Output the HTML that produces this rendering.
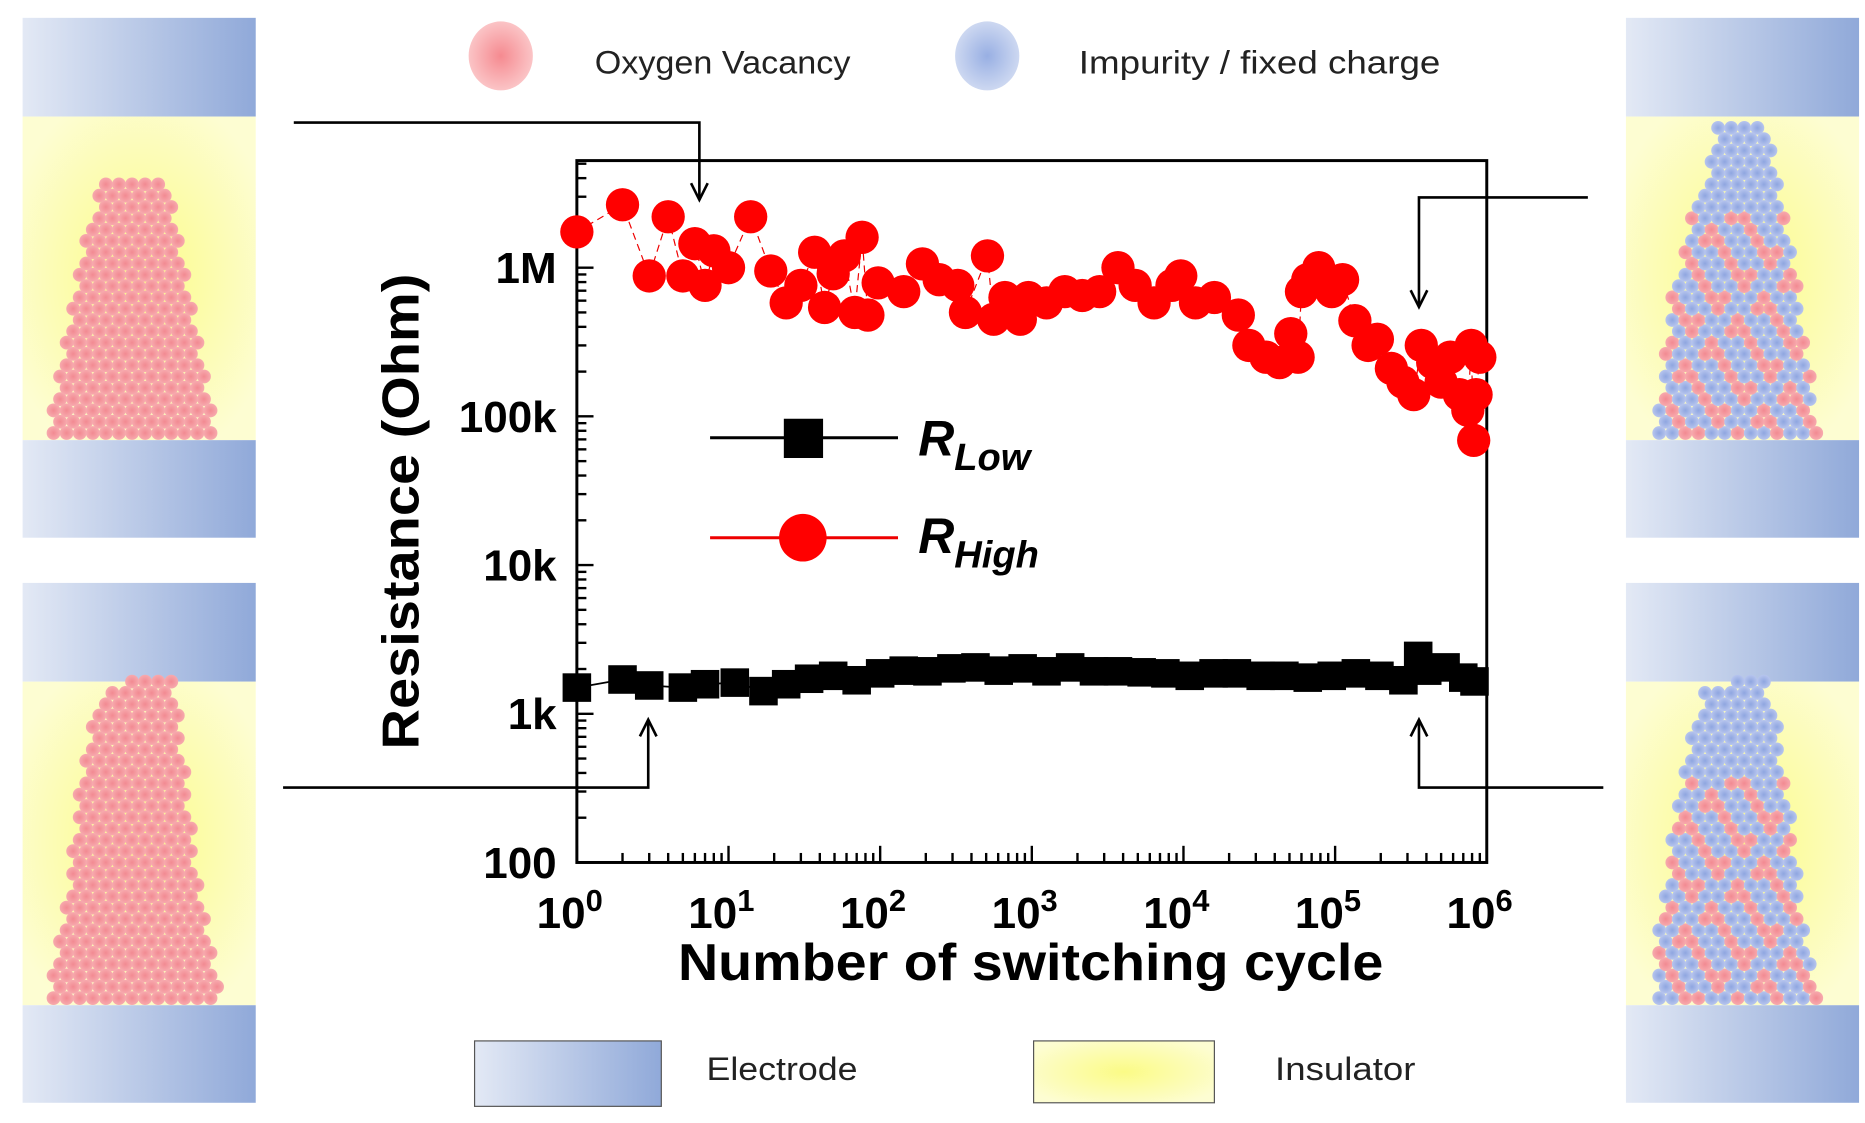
<!DOCTYPE html>
<html><head><meta charset="utf-8"><style>
html,body{margin:0;padding:0;background:#fff;}
svg{display:block;}
text{font-family:"Liberation Sans",Arial,sans-serif;}
</style></head><body>
<svg id="fig" width="1865" height="1123" viewBox="0 0 1568 944" preserveAspectRatio="none" xmlns="http://www.w3.org/2000/svg">
<defs>
<linearGradient id="elec" x1="0" x2="1" y1="0" y2="0"><stop offset="0" stop-color="#e3e9f5"/><stop offset="1" stop-color="#90a9d9"/></linearGradient>
<radialGradient id="ins" cx="0.5" cy="0.5" r="0.6"><stop offset="0" stop-color="#fbfb86"/><stop offset="1" stop-color="#fdfdd2"/></radialGradient>
<radialGradient id="redball"><stop offset="0" stop-color="#f58a90"/><stop offset="1" stop-color="#fbc4c6"/></radialGradient>
<radialGradient id="blueball"><stop offset="0" stop-color="#98afe3"/><stop offset="1" stop-color="#cdd8f1"/></radialGradient>
<radialGradient id="dotR"><stop offset="0" stop-color="#f28a92"/><stop offset="1" stop-color="#f7aaae"/></radialGradient>
<radialGradient id="dotB"><stop offset="0" stop-color="#8fa6e0"/><stop offset="1" stop-color="#b7c5ee"/></radialGradient>
</defs>

<g id="panels"></g>

<g>
<ellipse cx="421" cy="47" rx="27" ry="29" fill="url(#redball)"/>
<text x="500" y="62" font-size="27" fill="#222" textLength="215" lengthAdjust="spacingAndGlyphs">Oxygen Vacancy</text>
<ellipse cx="830" cy="47" rx="27" ry="29" fill="url(#blueball)"/>
<text x="907" y="62" font-size="27" fill="#222" textLength="304" lengthAdjust="spacingAndGlyphs">Impurity / fixed charge</text>
</g>

<g>
<rect x="399" y="875" width="157" height="55" fill="url(#elec)" stroke="#555" stroke-width="1"/>
<text x="594" y="908" font-size="27" fill="#222" textLength="127" lengthAdjust="spacingAndGlyphs">Electrode</text>
<rect x="869" y="875" width="152" height="52" fill="url(#ins)" stroke="#555" stroke-width="1"/>
<text x="1072" y="908" font-size="27" fill="#222" textLength="118" lengthAdjust="spacingAndGlyphs">Insulator</text>
</g>

<g id="chart"></g>

<g fill="none" stroke="#000" stroke-width="2.2">
<g><polyline points="247,103 588,103 588,168"/><polyline points="581,154 588,168 595,154"/></g>
<g><polyline points="1335,166 1193,166 1193,258"/><polyline points="1186,244 1193,258 1200,244"/></g>
<g><polyline points="238,662 545,662 545,605"/><polyline points="538,619 545,605 552,619"/></g>
<g><polyline points="1348,662 1193,662 1193,605"/><polyline points="1186,619 1193,605 1200,619"/></g>
</g>
</svg>
<script>
// ---- chart data ----
const hrsCycles = [1,2,3,4,5,6,7,8,10,14,19,24,30,37,43,49,58,68,76,83,97,143,190,245,325,365,510,560,665,840,950,1250,1650,2150,2800,3700,4800,6400,8400,9600,12000,16000,23000,27000,35000,43000,51000,57000,60000,66000,78000,95000,112000,135000,165000,190000,235000,280000,330000,370000,440000,500000,575000,660000,750000,790000,820000,850000,900000];
const hrsOhm = [1.74e6,2.65e6,0.88e6,2.2e6,0.88e6,1.45e6,0.76e6,1.3e6,1.0e6,2.2e6,0.95e6,0.58e6,0.76e6,1.27e6,0.54e6,0.91e6,1.2e6,0.5e6,1.6e6,0.48e6,0.79e6,0.69e6,1.06e6,0.83e6,0.76e6,0.5e6,1.2e6,0.45e6,0.63e6,0.45e6,0.63e6,0.58e6,0.69e6,0.65e6,0.69e6,1.0e6,0.76e6,0.58e6,0.76e6,0.88e6,0.58e6,0.63e6,0.48e6,0.3e6,0.25e6,0.23e6,0.36e6,0.25e6,0.69e6,0.83e6,1.0e6,0.69e6,0.83e6,0.44e6,0.3e6,0.33e6,0.21e6,0.17e6,0.14e6,0.3e6,0.23e6,0.17e6,0.25e6,0.14e6,0.11e6,0.3e6,0.069e6,0.14e6,0.25e6];
const lrsCycles = [1,2,3,5,7,11,17,24,34,49,70,100,143,205,295,425,605,870,1250,1790,2570,3700,5300,7600,11000,15800,22500,32300,46300,66000,95000,137000,196000,282000,353000,405000,535000,700000,830000];
const lrsOhm = [1500,1700,1550,1500,1580,1620,1420,1580,1720,1800,1680,1870,1950,1930,2020,2050,1950,2020,1930,2050,1930,1930,1900,1870,1800,1870,1870,1800,1800,1750,1800,1870,1800,1680,2450,1950,2050,1750,1650];
const yTickVals = [100,1000,10000,100000,1000000];
const yTickLabels = ["100","1k","10k","100k","1M"];
const xTickExps = [0,1,2,3,4,5,6];

const NS="http://www.w3.org/2000/svg";
function mk(tag, attrs, parent){const e=document.createElementNS(NS,tag);for(const k in attrs)e.setAttribute(k,attrs[k]);parent.appendChild(e);return e;}

// ---- panels ----
const panels=document.getElementById('panels');
const panelDefs=[
 {x:19,y:15,poly:[[40,370],[48,330],[56,280],[64,230],[72,190],[84,160],[100,143],[126,143],[142,160],[152,200],[160,250],[168,300],[178,340],[186,370]],blue:false,name:'panel-initial-hrs'},
 {x:19,y:490,poly:[[40,845],[50,790],[60,720],[68,660],[76,610],[88,585],[106,570],[146,570],[152,600],[156,650],[164,710],[172,770],[180,815],[186,845]],blue:false,name:'panel-initial-lrs'},
 {x:1367,y:15,poly:[[1390,370],[1396,320],[1404,260],[1414,210],[1426,170],[1438,140],[1444,100],[1486,100],[1492,140],[1502,180],[1510,230],[1518,290],[1526,340],[1532,370]],blue:true,name:'panel-final-hrs'},
 {x:1367,y:490,poly:[[1390,845],[1395,780],[1404,710],[1414,650],[1424,610],[1434,575],[1482,570],[1494,600],[1502,660],[1510,720],[1518,790],[1532,845]],blue:true,name:'panel-final-lrs'}
];
function inPoly(px,py,poly){let c=false;for(let i=0,j=poly.length-1;i<poly.length;j=i++){const [xi,yi]=poly[i],[xj,yj]=poly[j];if(((yi>py)!=(yj>py))&&(px<(xj-xi)*(py-yi)/(yj-yi)+xi))c=!c;}return c;}
panelDefs.forEach(p=>{
 const g=mk('g',{},panels);
 
 
 const t=mk('rect',{x:p.x,y:p.y,width:196,height:83,fill:'url(#elec)'},g);
 
 
 const m=mk('rect',{x:p.x,y:p.y+83,width:196,height:272,fill:'url(#ins)'},g);
 
 
 const b=mk('rect',{x:p.x,y:p.y+355,width:196,height:82,fill:'url(#elec)'},g);
 
 
 const fil=mk('g',{},g);
 
 
 const ys=p.poly.map(q=>q[1]);const ymin=Math.min(...ys),ymax=Math.max(...ys);
 const xs=p.poly.map(q=>q[0]);const xmin=Math.min(...xs),xmax=Math.max(...xs);
 let row=0;
 for(let y=ymax-6;y>=ymin+3;y-=9.5,row++){
  for(let x=xmin+5+(row%2)*5.5;x<=xmax-3;x+=11){
   if(!inPoly(x,y,p.poly))continue;
   const isBlue=p.blue&&(((Math.round(x)*7+row*13)%10)<6||y<p.y+160);
   mk('circle',{cx:x,cy:y,r:5.8,fill:isBlue?'url(#dotB)':'url(#dotR)'},fil);
  }
 }
});

// ---- chart ----
const chart=document.getElementById('chart');
const L=485,R=1250,T=135,B=725;
const xs=c=>L+Math.log10(c)*(R-L)/6;
const ys=v=>B-(Math.log10(v)-2)*125;

const frame=mk('rect',{x:L,y:T,width:R-L,height:B-T,fill:'none',stroke:'#000','stroke-width':2.5},chart);



const yAxis=mk('g',{},chart);


for(let d=2;d<=6;d++){
 for(let k=1;k<=9;k++){
  const v=k*Math.pow(10,d);const y=ys(v);if(y<T)break;
  mk('line',{x1:L,x2:L+(k==1?14:8),y1:y,y2:y,stroke:'#000','stroke-width':2},yAxis);
 }
}
yTickVals.forEach((v,i)=>{
 const t=mk('text',{x:468,y:ys(v)+13,'text-anchor':'end','font-size':37,'font-weight':'bold'},yAxis);
 t.textContent=yTickLabels[i];
 
 
});
const yt=mk('text',{x:0,y:0,transform:'translate(352,430) rotate(-90)','text-anchor':'middle','font-size':44,'font-weight':'bold',textLength:400,lengthAdjust:'spacingAndGlyphs'},chart);
yt.textContent='Resistance (Ohm)';



const xAxis=mk('g',{},chart);


for(let d=0;d<6;d++){
 for(let k=1;k<=9;k++){
  const x=xs(k*Math.pow(10,d));
  mk('line',{x1:x,x2:x,y1:B,y2:B-(k==1?14:8),stroke:'#000','stroke-width':2},xAxis);
 }
}
xTickExps.forEach(e=>{
 const t=mk('text',{x:xs(Math.pow(10,e))-6,y:780,'text-anchor':'middle','font-size':37,'font-weight':'bold'},xAxis);
 t.textContent='10';
 const s=mk('tspan',{dy:-14,'font-size':26},t);
 s.textContent=String(e);
 
 
});
const xt=mk('text',{x:570,y:824,'font-size':44,'font-weight':'bold',textLength:593,lengthAdjust:'spacingAndGlyphs'},chart);
xt.textContent='Number of switching cycle';



const hg=mk('g',{},chart);


mk('polyline',{points:hrsCycles.map((c,i)=>xs(c)+','+ys(hrsOhm[i])).join(' '),fill:'none',stroke:'#e00','stroke-width':1,'stroke-dasharray':'6 4'},hg);
hrsCycles.forEach((c,i)=>{
 const e=mk('circle',{cx:xs(c),cy:ys(hrsOhm[i]),r:14,fill:'#f00'},hg);
 
 
});
const lg=mk('g',{},chart);


mk('polyline',{points:lrsCycles.map((c,i)=>xs(c)+','+ys(lrsOhm[i])).join(' '),fill:'none',stroke:'#000','stroke-width':1.5},lg);
lrsCycles.forEach((c,i)=>{
 const e=mk('rect',{x:xs(c)-12,y:ys(lrsOhm[i])-12,width:24,height:24,fill:'#000'},lg);
 
 
});

const leg=mk('g',{},chart);


mk('line',{x1:597,x2:755,y1:368,y2:368,stroke:'#000','stroke-width':2.5},leg);
mk('rect',{x:659,y:352,width:33,height:33,fill:'#000'},leg);
const l1=mk('text',{x:772,y:383,'font-size':42,'font-weight':'bold','font-style':'italic'},leg);
l1.textContent='R';
mk('tspan',{dy:12,'font-size':32},l1).textContent='Low';


mk('line',{x1:597,x2:755,y1:452,y2:452,stroke:'#e00','stroke-width':2.5},leg);
mk('circle',{cx:675,cy:452,r:20,fill:'#f00'},leg);
const l2=mk('text',{x:772,y:465,'font-size':42,'font-weight':'bold','font-style':'italic'},leg);
l2.textContent='R';
mk('tspan',{dy:12,'font-size':32},l2).textContent='High';


</script>
</body></html>
